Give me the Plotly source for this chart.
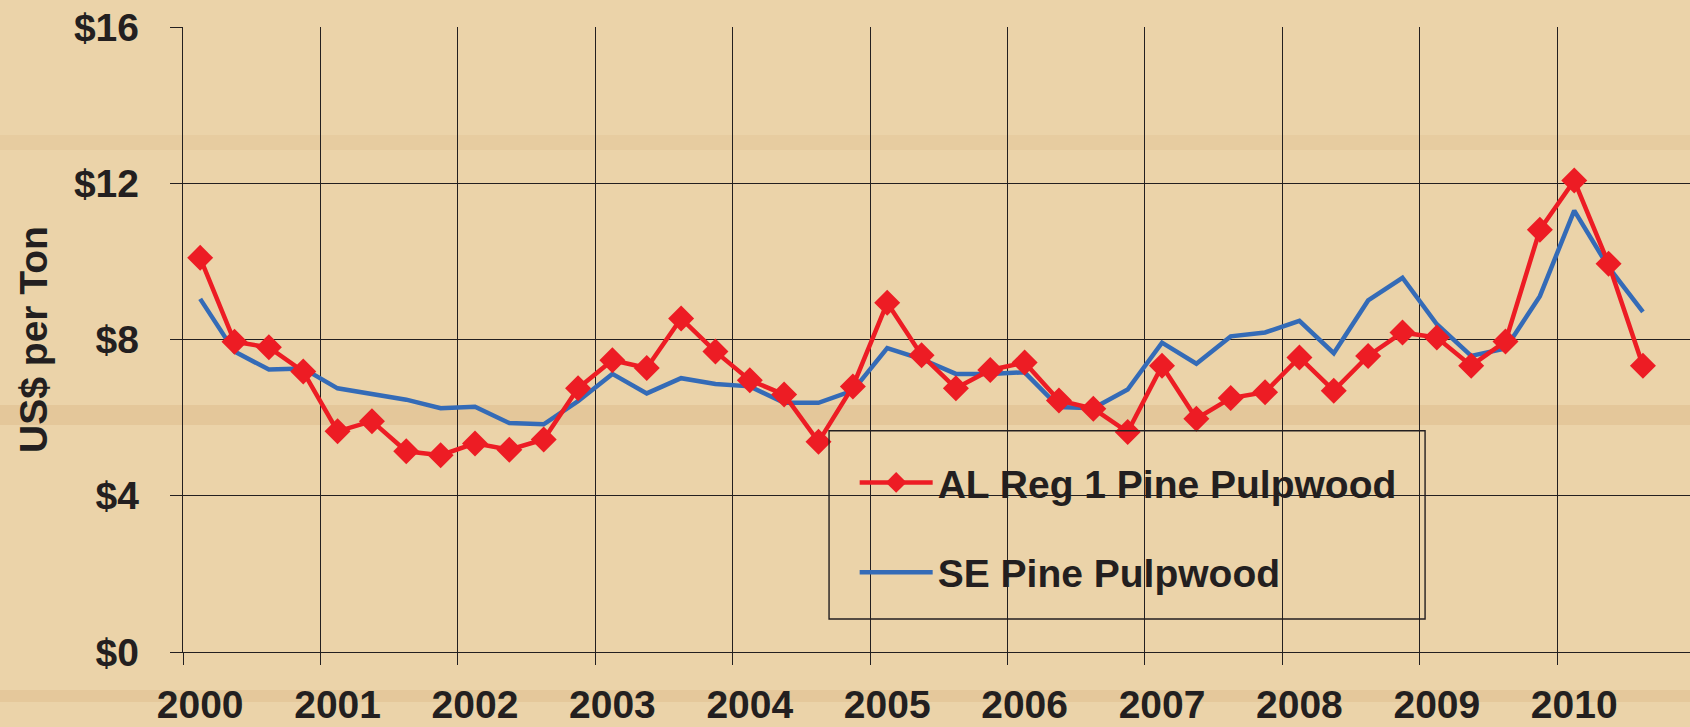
import plotly.graph_objects as go

# quarterly pine pulpwood stumpage prices, 2000 Q1 .. 2010 Q3 (US$ per ton)
al_reg1 = [10.09, 7.94, 7.80, 7.18, 5.65, 5.91, 5.14, 5.04, 5.34, 5.18, 5.44,
           6.75, 7.47, 7.27, 8.54, 7.69, 6.96, 6.59, 5.38, 6.80, 8.94, 7.60,
           6.75, 7.22, 7.41, 6.44, 6.23, 5.63, 7.33, 5.97, 6.50, 6.65, 7.54,
           6.69, 7.58, 8.18, 8.05, 7.33, 7.95, 10.81, 12.07, 9.94, 7.33]
se_pine = [9.04, 7.69, 7.23, 7.26, 6.75, 6.61, 6.46, 6.24, 6.28, 5.86, 5.83,
           6.42, 7.12, 6.62, 7.01, 6.86, 6.80, 6.38, 6.38, 6.69, 7.78, 7.50,
           7.12, 7.12, 7.16, 6.27, 6.24, 6.72, 7.92, 7.38, 8.08, 8.18, 8.48,
           7.65, 9.00, 9.58, 8.39, 7.58, 7.77, 9.11, 11.30, 9.85, 8.71]
years = [str(y) for y in range(2000, 2011)]
y_ticks = [0, 4, 8, 12, 16]

quarters = list(range(len(al_reg1)))
year_starts = [4 * k for k in range(len(years))]
year_bounds = [4 * k - 0.5 for k in range(len(years))]

INK = "#231f20"
RED = "#ed1c24"
BLUE = "#346bb7"
BG = "#ebd3a9"
FONT = dict(family="Liberation Sans, Arial, sans-serif", size=39, color=INK, weight="bold")

fig = go.Figure()

fig.add_trace(go.Scatter(
    x=quarters, y=se_pine, mode="lines", name="SE Pine Pulpwood",
    line=dict(color=BLUE, width=4.5), legendgroup="b", legendrank=2,
))
fig.add_trace(go.Scatter(
    x=quarters, y=al_reg1, mode="lines+markers", name="AL Reg 1 Pine Pulpwood",
    line=dict(color=RED, width=4.5),
    marker=dict(symbol="diamond", size=20, color=RED),
    legendgroup="a", legendrank=1, xaxis="x2",
))

x_range = [-0.5, 43.37]

# plot area in pixels: top 27, bottom 652 -> paper y helper
def py(px):
    return (652 - px) / 625

# faint wood grain streaks behind the plot
streaks = []
for top, bottom, alpha in [(135, 150, 0.12), (405, 425, 0.22), (690, 702, 0.2)]:
    streaks.append(dict(
        type="rect", xref="paper", yref="paper", layer="below",
        x0=-0.13, x1=1.01, y0=py(bottom), y1=py(top),
        line=dict(width=0), fillcolor=f"rgba(205,160,100,{alpha})",
    ))

fig.update_layout(
    width=1690, height=727,
    margin=dict(l=183, r=0, t=27, b=75),
    paper_bgcolor=BG,
    plot_bgcolor="rgba(0,0,0,0)",
    font=FONT,
    showlegend=True,
    legend=dict(
        x=0.4457, y=py(450.6), xanchor="left", yanchor="top",
        bgcolor="rgba(0,0,0,0)", borderwidth=0,
        font=FONT, traceorder="grouped", tracegroupgap=36,
        itemwidth=73,
    ),
    xaxis=dict(
        range=x_range, tickmode="array", tickvals=year_bounds,
        showticklabels=False, showgrid=True, gridcolor=INK, gridwidth=1.4,
        ticks="outside", ticklen=12, tickwidth=1.4, tickcolor=INK,
        showline=True, linecolor=INK, linewidth=1.4, zeroline=False,
        automargin=False,
    ),
    xaxis2=dict(
        range=x_range, overlaying="x", anchor="y", side="bottom",
        tickmode="array", tickvals=year_starts, ticktext=years,
        showgrid=False, ticks="", zeroline=False, showline=False,
        ticklabelstandoff=26, tickfont=FONT, automargin=False,
    ),
    yaxis=dict(
        range=[0, 16], tickmode="array", tickvals=y_ticks,
        ticktext=["$" + str(v) for v in y_ticks],
        showgrid=True, gridcolor=INK, gridwidth=1.4,
        ticks="outside", ticklen=12, tickwidth=1.4, tickcolor=INK,
        showline=True, linecolor=INK, linewidth=1.4, zeroline=False,
        ticklabelstandoff=23, tickfont=FONT, automargin=False,
        title=dict(text="US$ per Ton", font=FONT, standoff=14),
    ),
    shapes=streaks + [dict(
        type="rect", xref="paper", yref="paper",
        x0=0.4287, x1=0.8242, y0=py(619), y1=py(430.7),
        line=dict(color=INK, width=1.4), fillcolor="rgba(0,0,0,0)",
    )],
)

# drop the browser's default page margin so the figure fills the window
fig.write_html(
    "out.html",
    config={"displayModeBar": False},
    post_script=f"document.body.style.margin='0';document.body.style.background='{BG}';",
)
